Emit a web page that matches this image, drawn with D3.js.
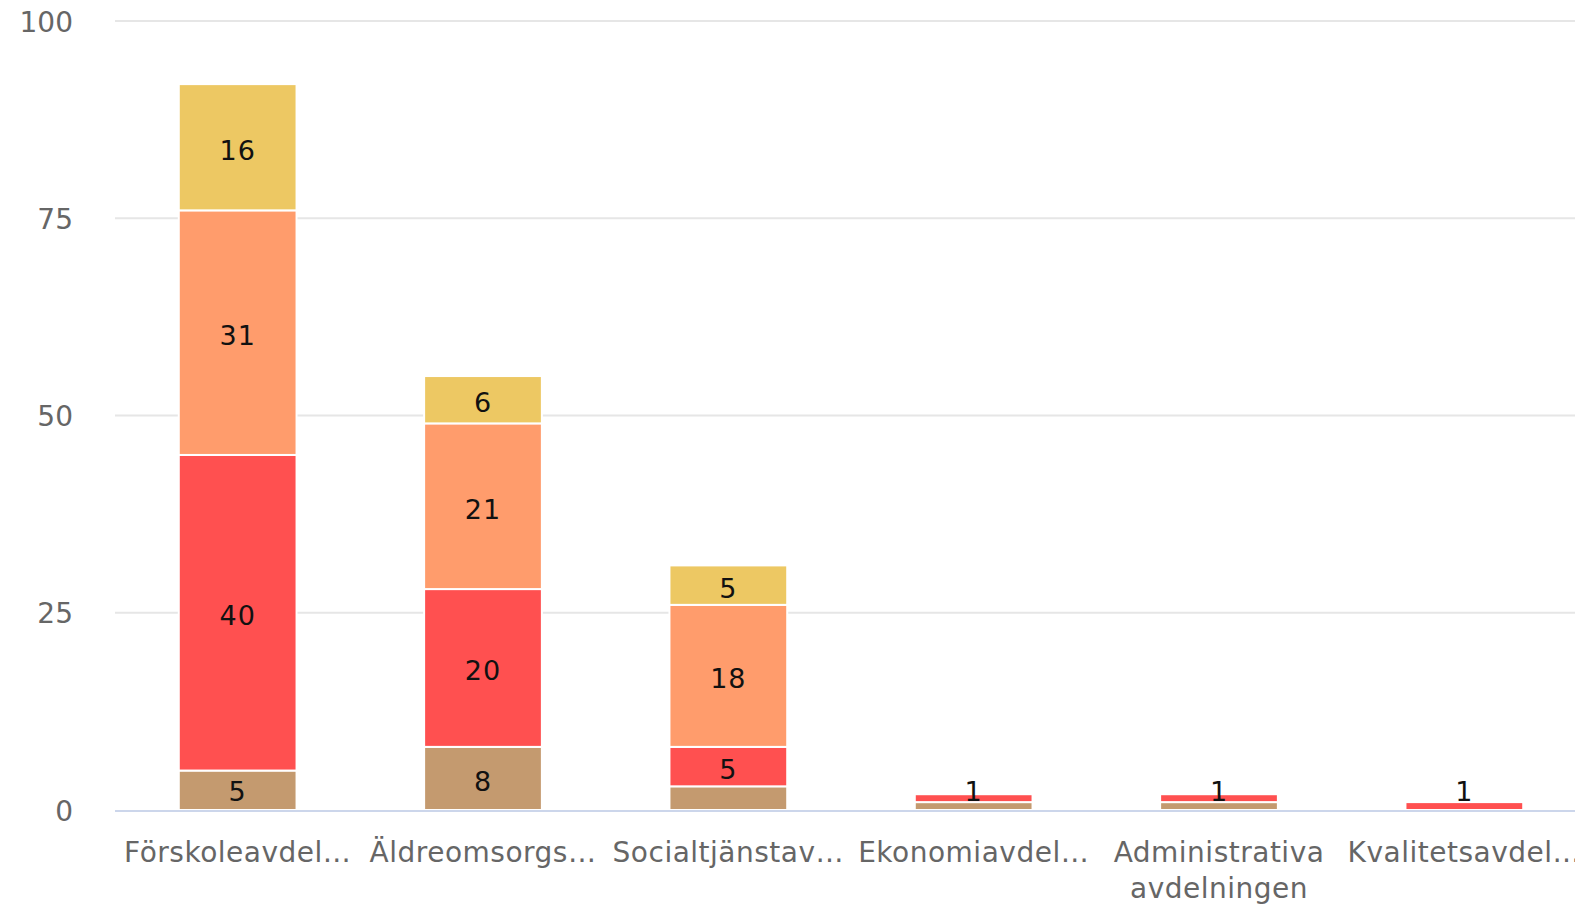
<!DOCTYPE html>
<html>
<head>
<meta charset="utf-8">
<script src="https://cdn.jsdelivr.net/npm/d3@7/dist/d3.min.js"></script>
<style>
  html, body { margin: 0; padding: 0; background: #fff; }
  svg { display: block; font-family: "DejaVu Sans", sans-serif; }
</style>
</head>
<body>
<svg id="chart" width="1575" height="905"></svg>
<script>
const categories = ["Förskoleavdel…", "Äldreomsorgs…", "Socialtjänstav…", "Ekonomiavdel…", "Administrativa avdelningen", "Kvalitetsavdel…"];
const seriesNames = ["Brun", "Röd", "Orange", "Gul"];
const seriesColors = ["#C49A6F", "#FF5050", "#FF9C6C", "#EDC863"];
const brown  = [5, 8, 3, 1, 1, 0];
const red    = [40, 20, 5, 1, 1, 1];
const orange = [31, 21, 18, 0, 0, 0];
const yellow = [16, 6, 5, 0, 0, 0];
const yTicks = [0, 25, 50, 75, 100];

const seriesValues = [brown, red, orange, yellow];
const W = 1575, H = 905;
const svg = d3.select("#chart");

const x = d3.scaleBand().domain(categories).range([115, 1587]).paddingInner(0.52).paddingOuter(0.26);
const y = d3.scaleLinear().domain([0, 100]).range([810, 21]);

// gridlines
svg.append("g").selectAll("line").data(yTicks.filter(t => t !== 0)).join("line")
  .attr("x1", 115).attr("x2", W).attr("y1", d => y(d)).attr("y2", d => y(d))
  .attr("stroke", "#e6e6e6").attr("stroke-width", 2);

// y tick labels via axis
const yAxis = d3.axisLeft(y).tickValues(yTicks).tickSize(0).tickPadding(0);
const yg = svg.append("g").attr("transform", "translate(73,0)").call(yAxis);
yg.select(".domain").remove();
yg.selectAll("text").attr("font-size", 28).attr("fill", "#666").attr("font-family", "DejaVu Sans, sans-serif").attr("dy", "0.36em");

// stack
const rows = categories.map((c, i) => {
  const o = { cat: c };
  seriesNames.forEach((s, k) => o[s] = seriesValues[k][i]);
  return o;
});
const stack = d3.stack().keys(seriesNames)(rows);

const gBars = svg.append("g");
stack.forEach((layer, k) => {
  gBars.append("g").selectAll("rect").data(layer.filter(d => d[1] - d[0] > 0)).join("rect")
    .attr("x", d => x(d.data.cat))
    .attr("width", x.bandwidth())
    .attr("y", d => y(d[1]))
    .attr("height", d => y(d[0]) - y(d[1]))
    .attr("fill", seriesColors[k])
    .attr("stroke", "#fff").attr("stroke-width", 2);
});

// x axis baseline
svg.append("line").attr("x1", 115).attr("x2", W).attr("y1", y(0) + 1).attr("y2", y(0) + 1)
  .attr("stroke", "#ccd6eb").attr("stroke-width", 2);

// data labels
const gLabels = svg.append("g");
stack.forEach((layer, k) => {
  layer.forEach((d, i) => {
    const v = d[1] - d[0];
    if (v <= 0) return;
    const h = y(d[0]) - y(d[1]);
    const isTop = stack.slice(k + 1).every(l => l[i][1] - l[i][0] === 0);
    if (h < 30 && !isTop) return;
    const cy = Math.min((y(d[0]) + y(d[1])) / 2 + 3, y(0) - 19);
    gLabels.append("text")
      .attr("x", x(d.data.cat) + x.bandwidth() / 2)
      .attr("y", cy)
      .attr("text-anchor", "middle")
      .attr("dominant-baseline", "central")
      .attr("font-size", 27)
      .attr("letter-spacing", 1)
      .attr("fill", "#111")
      .text(v);
  });
});

// category labels
const xAxis = d3.axisBottom(x).tickSize(0).tickPadding(0);
const xg = svg.append("g").attr("transform", `translate(0,${y(0)})`).call(xAxis);
xg.select(".domain").remove();
xg.selectAll("text").remove();
xg.selectAll(".tick").each(function(d) {
  const t = d3.select(this).append("text")
    .attr("text-anchor", "middle").attr("font-size", 28).attr("fill", "#666")
    .attr("letter-spacing", 0.5)
    .attr("font-family", "DejaVu Sans, sans-serif");
  const parts = d.includes(" ") ? d.split(" ") : [d];
  parts.forEach((p, j) => t.append("tspan").attr("x", 0).attr("y", 52 + j * 36).text(p));
});
</script>
</body>
</html>
